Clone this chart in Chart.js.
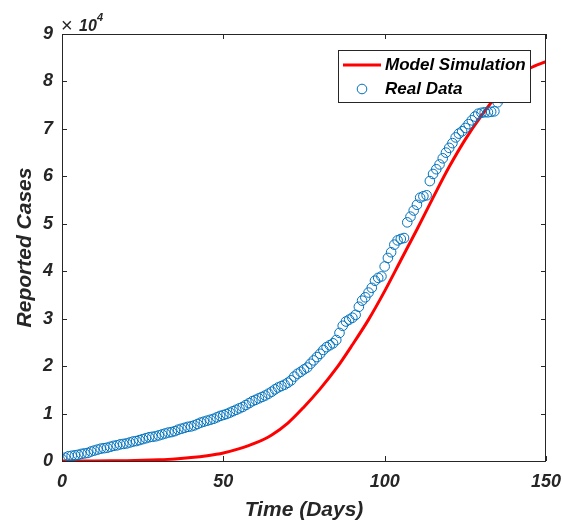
<!DOCTYPE html>
<html>
<head>
<meta charset="utf-8">
<script src="https://cdn.jsdelivr.net/npm/chart.js@4.4.0/dist/chart.umd.min.js"></script>
<style>
  body { margin: 0; background: #fff; }
  canvas { display: block; }
</style>
</head>
<body>
<canvas id="casesChart" width="563" height="523"></canvas>
<script>
// Reported cumulative cases, one value per day starting at day 0
const realCases = [
    400, 700, 1000, 1100, 1200, 1300, 1500, 1600, 1700, 2000,
    2200, 2400, 2600, 2700, 2800, 3000, 3200, 3300, 3500, 3600,
    3700, 3900, 4100, 4200, 4400, 4600, 4800, 5000, 5100, 5200,
    5400, 5600, 5800, 6000, 6100, 6300, 6600, 6800, 7000, 7200,
    7300, 7500, 7800, 8100, 8300, 8500, 8700, 8900, 9200, 9500,
    9700, 9900, 10200, 10500, 10800, 11100, 11400, 11800, 12200, 12600,
    12900, 13200, 13500, 13800, 14200, 14600, 15100, 15500, 15800, 16100,
    16500, 17000, 17800, 18400, 18800, 19300, 19700, 20500, 21200, 21900,
    22600, 23400, 24000, 24400, 24800, 25500, 27000, 28500, 29400, 29800,
    30200, 30800, 32500, 33800, 34500, 35500, 36500, 38000, 38600, 38900,
    41000, 42800, 44000, 45600, 46500, 46800, 47000, 50300, 51500, 52800,
    54000, 55500, 55800, 56000, 59000, 60500, 61500, 62500, 63800, 65000,
    66000, 67000, 68200, 69000, 69500, 70200, 71000, 71800, 72600, 73200,
    73400, 73500, 73500, 73600, 73700, 75600, 76500
];

// Model simulation curve
const modelDays = [0, 5, 10, 15, 20, 25, 30, 35, 40, 45, 50, 55, 60, 65, 70, 75,
    80, 85, 90, 95, 100, 105, 110, 115, 120, 125, 130, 135, 140, 145, 150];
const modelCases = [0, 0, 10, 30, 70, 140, 260, 440, 720, 1120, 1700, 2600, 3800, 5500, 8000, 11400,
    15200, 19500, 24500, 29800, 35800, 42300, 48800, 55500, 62000, 67800, 72800, 77200, 80500, 82800, 84200];

const xTicks = [0, 50, 100, 150];
const yTicks = [0, 10000, 20000, 30000, 40000, 50000, 60000, 70000, 80000, 90000];
const yTickLabels = ['0', '1', '2', '3', '4', '5', '6', '7', '8', '9'];

const axisColor = '#262626';
const fontFamily = '"Liberation Sans", Arial, Helvetica, sans-serif';

// MATLAB style box with ticks pointing inward, legend and exponent
const matlabAxes = {
    id: 'matlabAxes',
    afterDatasetsDraw(chart) {
        const ctx = chart.ctx;
        const area = chart.chartArea;
        const xs = chart.scales.x;
        const ys = chart.scales.y;
        const tick = 5;

        ctx.save();
        ctx.strokeStyle = axisColor;
        ctx.lineWidth = 1;
        ctx.strokeRect(area.left + 0.5, area.top + 0.5, area.right - area.left - 1, area.bottom - area.top);

        ctx.beginPath();
        xTicks.forEach(v => {
            const px = Math.round(xs.getPixelForValue(v)) + 0.5;
            ctx.moveTo(px, area.bottom);
            ctx.lineTo(px, area.bottom - tick);
            ctx.moveTo(px, area.top);
            ctx.lineTo(px, area.top + tick);
        });
        yTicks.forEach(v => {
            const py = Math.round(ys.getPixelForValue(v)) + 0.5;
            ctx.moveTo(area.left, py);
            ctx.lineTo(area.left + tick, py);
            ctx.moveTo(area.right, py);
            ctx.lineTo(area.right - tick, py);
        });
        ctx.stroke();

        // legend
        const lx = 338, ly = 50, lw = 192, lh = 52;
        ctx.fillStyle = '#ffffff';
        ctx.fillRect(lx, ly, lw, lh);
        ctx.strokeStyle = axisColor;
        ctx.strokeRect(lx + 0.5, ly + 0.5, lw, lh);

        ctx.strokeStyle = '#ff0000';
        ctx.lineWidth = 3;
        ctx.beginPath();
        ctx.moveTo(lx + 5, ly + 15);
        ctx.lineTo(lx + 43, ly + 15);
        ctx.stroke();

        ctx.strokeStyle = '#0072BD';
        ctx.lineWidth = 1;
        ctx.beginPath();
        ctx.arc(lx + 24, ly + 39, 4.8, 0, Math.PI * 2);
        ctx.stroke();

        ctx.fillStyle = '#000000';
        ctx.font = 'italic bold 17px ' + fontFamily;
        ctx.textAlign = 'left';
        ctx.textBaseline = 'middle';
        ctx.fillText('Model Simulation', lx + 47, ly + 15);
        ctx.fillText('Real Data', lx + 47, ly + 39);

        // exponent label
        ctx.fillStyle = axisColor;
        ctx.textBaseline = 'alphabetic';
        ctx.font = '20px ' + fontFamily;
        ctx.fillText('\u00d7', area.left - 1, 32);
        ctx.font = 'italic bold 16px ' + fontFamily;
        ctx.fillText('10', area.left + 17, 31);
        ctx.font = 'italic bold 11px ' + fontFamily;
        ctx.fillText('4', area.left + 35, 21);
        ctx.restore();
    }
};

const ctx = document.getElementById('casesChart').getContext('2d');
new Chart(ctx, {
    data: {
        datasets: [
            {
                type: 'line',
                label: 'Model Simulation',
                data: modelDays.map((d, i) => ({ x: d, y: modelCases[i] })),
                borderColor: '#ff0000',
                borderWidth: 3,
                pointRadius: 0,
                fill: false,
                cubicInterpolationMode: 'monotone',
                order: 2
            },
            {
                type: 'scatter',
                label: 'Real Data',
                data: realCases.map((v, i) => ({ x: i, y: v })),
                borderColor: '#0072BD',
                backgroundColor: 'rgba(0,0,0,0)',
                pointRadius: 4.8,
                pointBorderWidth: 1,
                pointStyle: 'circle',
                order: 1
            }
        ]
    },
    options: {
        responsive: false,
        animation: false,
        layout: { padding: { top: 34, right: 17, left: 0, bottom: 0 } },
        plugins: {
            legend: { display: false },
            tooltip: { enabled: false }
        },
        scales: {
            x: {
                type: 'linear',
                min: 0,
                max: 150,
                afterBuildTicks: (scale) => { scale.ticks = xTicks.map(v => ({ value: v })); },
                afterFit: (scale) => {
                    scale.height = 62;
                    scale.paddingLeft = 0;
                    scale.paddingRight = 0;
                },
                grid: { display: false, drawTicks: false },
                border: { display: false },
                ticks: {
                    padding: 10,
                    color: axisColor,
                    maxRotation: 0,
                    font: { family: fontFamily, size: 18, style: 'italic', weight: 'bold' }
                },
                title: {
                    display: true,
                    text: 'Time (Days)',
                    color: axisColor,
                    padding: { top: 0, bottom: 0 },
                    font: { family: fontFamily, size: 21, style: 'italic', weight: 'bold' }
                }
            },
            y: {
                type: 'linear',
                min: 0,
                max: 90000,
                afterBuildTicks: (scale) => { scale.ticks = yTicks.map(v => ({ value: v })); },
                afterFit: (scale) => {
                    scale.width = 62;
                    scale.paddingTop = 0;
                    scale.paddingBottom = 0;
                },
                grid: { display: false, drawTicks: false },
                border: { display: false },
                ticks: {
                    padding: 9,
                    color: axisColor,
                    font: { family: fontFamily, size: 18, style: 'italic', weight: 'bold' },
                    callback: (v) => yTickLabels[yTicks.indexOf(v)]
                },
                title: {
                    display: true,
                    text: 'Reported Cases',
                    color: axisColor,
                    padding: { top: 13, bottom: 0 },
                    font: { family: fontFamily, size: 21, style: 'italic', weight: 'bold' }
                }
            }
        }
    },
    plugins: [matlabAxes]
});
</script>
</body>
</html>
